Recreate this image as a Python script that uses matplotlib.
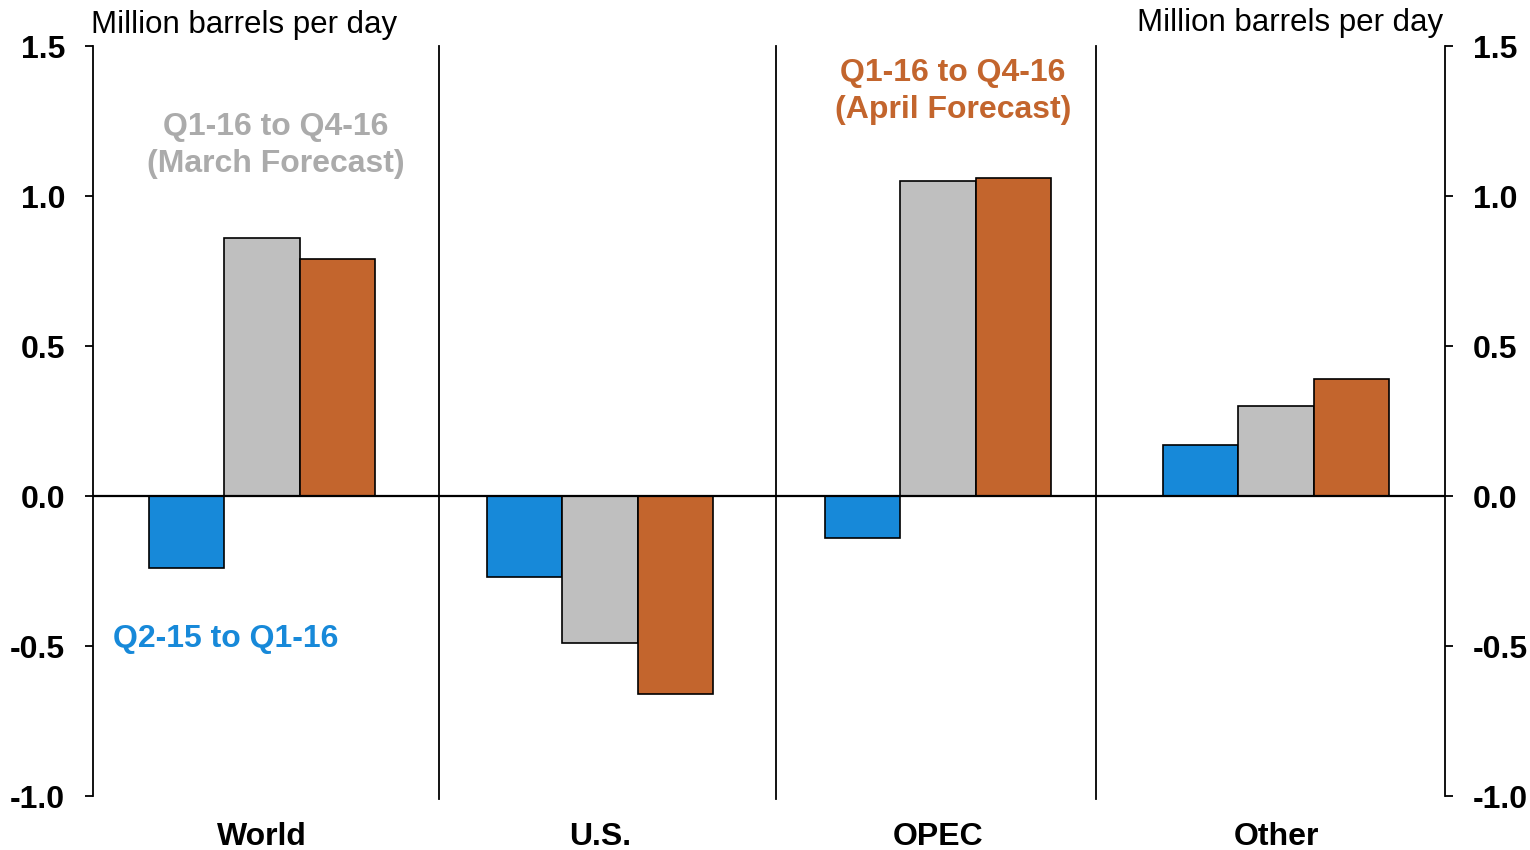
import matplotlib.pyplot as plt
import numpy as np

plt.rcParams['font.family'] = ['Liberation Sans', 'DejaVu Sans']

regions = ['World', 'U.S.', 'OPEC', 'Other']
q2_15_to_q1_16 = [-0.24, -0.27, -0.14, 0.17]
march_forecast = [0.86, -0.49, 1.05, 0.30]
april_forecast = [0.79, -0.66, 1.06, 0.39]

BLUE = '#1789D9'
GRAY = '#BFBFBF'
ORANGE = '#C3652D'

fig = plt.figure(figsize=(15.3, 8.5), dpi=100)
ax = fig.add_axes([93 / 1530, 1 - 796 / 850, (1445 - 93) / 1530, 750 / 850])

x = np.arange(len(regions)) + 0.5
w = 0.222
ax.bar(x - w, q2_15_to_q1_16, w, color=BLUE, edgecolor='black', linewidth=1.2)
ax.bar(x, march_forecast, w, color=GRAY, edgecolor='black', linewidth=1.2)
ax.bar(x + w, april_forecast, w, color=ORANGE, edgecolor='black', linewidth=1.2)

ax.set_xlim(0, 4)
ax.set_ylim(-1.0, 1.5)
ax.axhline(0, color='black', linewidth=1.6, zorder=3)

# group separators
for sx in [1.024, 2.021, 2.967]:
    ax.plot([sx, sx], [1.5, -1.01], color='black', linewidth=1.3, clip_on=False)

yticks = [-1.0, -0.5, 0.0, 0.5, 1.0, 1.5]
ylabels = ['%.1f' % t for t in yticks]

ax.set_xticks([])
ax.set_yticks(yticks)
ax.set_yticklabels(ylabels, fontsize=23, fontweight='bold')
ax.tick_params(axis='y', direction='out', length=6, width=1.3, pad=14)
for s in ['top', 'bottom', 'right']:
    ax.spines[s].set_visible(False)
ax.spines['left'].set_linewidth(1.3)

ax2 = ax.twinx()
ax2.set_ylim(-1.0, 1.5)
ax2.set_yticks(yticks)
ax2.set_yticklabels(ylabels, fontsize=23, fontweight='bold')
ax2.tick_params(axis='y', direction='out', length=6, width=1.3, pad=14)
for s in ['top', 'bottom', 'left']:
    ax2.spines[s].set_visible(False)
ax2.spines['right'].set_linewidth(1.3)

for xi, name in zip(x, regions):
    ax.text(xi, -1.088, name, ha='center', va='top', fontsize=23, fontweight='bold')

fig.text(91 / 1530, 1 - 25 / 850, 'Million barrels per day', ha='left', va='center', fontsize=22.5)
fig.text(1443 / 1530, 1 - 23 / 850, 'Million barrels per day', ha='right', va='center', fontsize=22.5)

ax.text(0.541, 1.167, 'Q1-16 to Q4-16\n(March Forecast)', ha='center', va='center',
        fontsize=23, fontweight='bold', color='#ABABAB', linespacing=1.3)
ax.text(2.544, 1.347, 'Q1-16 to Q4-16\n(April Forecast)', ha='center', va='center',
        fontsize=23, fontweight='bold', color=ORANGE, linespacing=1.3)
ax.text(0.06, -0.475, 'Q2-15 to Q1-16', ha='left', va='center',
        fontsize=23, fontweight='bold', color=BLUE)

fig.savefig('out.png', dpi=100)
